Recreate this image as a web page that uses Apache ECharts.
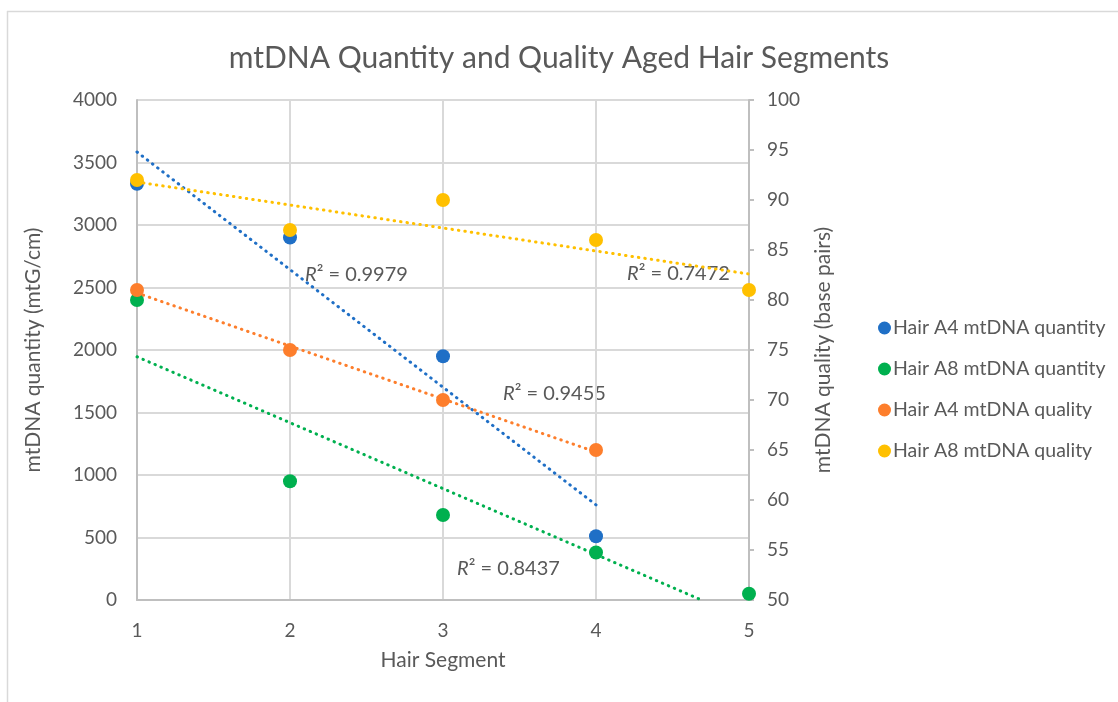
<!DOCTYPE html>
<html>
<head>
<meta charset="utf-8">
<script src="https://cdn.jsdelivr.net/npm/echarts@6/dist/echarts.min.js"></script>
<style>
  html, body { margin: 0; padding: 0; background: #fff; }
  #chart { width: 1118px; height: 702px; }
</style>
</head>
<body>
<div id="chart"></div>
<script>
// hair segments 1..5
const a4Quantity = [[1, 3330], [2, 2900], [3, 1950], [4, 510]]
const a8Quantity = [[1, 2400], [2, 950], [3, 680], [4, 380], [5, 50]]
const a4Quality = [[1, 81], [2, 75], [3, 70], [4, 65]]
const a8Quality = [[1, 92], [2, 87], [3, 90], [4, 86], [5, 81]]

// linear trendline end points
const a4QuantityTrend = [[1, 3584], [4, 761]]
const a8QuantityTrend = [[1, 1946], [4.69, 0]]
const a4QualityTrend = [[1, 80.7], [4, 64.8]]
const a8QualityTrend = [[1, 91.8], [5, 82.6]]

const r2Labels = ['0.9979', '0.7472', '0.9455', '0.8437']

const font = 'Lato'
const textColor = '#595959'
const colors = ['#1f6fc6', '#00b04f', '#fd7e2c', '#ffc000']

const chart = echarts.init(document.getElementById('chart'))

function trend(data, color, yAxisIndex) {
  return {
    type: 'line',
    data: data,
    yAxisIndex: yAxisIndex,
    showSymbol: false,
    symbol: 'none',
    silent: true,
    z: 5,
    lineStyle: { color: color, width: 3, type: [0.5, 6], cap: 'round' }
  }
}

function dots(name, data, color, yAxisIndex) {
  return {
    name: name,
    type: 'scatter',
    data: data,
    yAxisIndex: yAxisIndex,
    symbolSize: 14,
    itemStyle: { color: color, opacity: 1 },
    z: 3
  }
}

function r2Text(value, left, top) {
  return {
    type: 'text',
    left: left,
    top: top,
    style: {
      text: '{i|R}² = ' + value,
      font: '20px ' + font,
      fill: textColor,
      rich: { i: { fontStyle: 'italic', fontSize: 20, fontFamily: font, fill: textColor } }
    }
  }
}

chart.setOption({
  animation: false,
  textStyle: { fontFamily: font, color: textColor },
  title: {
    text: 'mtDNA Quantity and Quality Aged Hair Segments',
    left: 'center',
    top: 38,
    textStyle: { fontFamily: font, fontSize: 30, fontWeight: 'normal', color: textColor }
  },
  legend: {
    orient: 'vertical',
    left: 873,
    top: 313,
    itemGap: 21,
    itemWidth: 13,
    itemHeight: 13,
    icon: 'circle',
    data: ['Hair A4 mtDNA quantity', 'Hair A8 mtDNA quantity', 'Hair A4 mtDNA quality', 'Hair A8 mtDNA quality'],
    textStyle: { fontFamily: font, fontSize: 19.5, color: textColor, padding: [0, 0, 0, -3] }
  },
  grid: { left: 137, right: 369, top: 100, bottom: 102 },
  xAxis: {
    type: 'value',
    min: 1,
    max: 5,
    interval: 1,
    name: 'Hair Segment',
    nameLocation: 'middle',
    nameGap: 50,
    nameTextStyle: { fontSize: 21, color: textColor },
    axisLine: { lineStyle: { color: '#bfbfbf', width: 2 } },
    axisTick: { show: false },
    axisLabel: { fontSize: 19, color: textColor, margin: 21 },
    splitLine: { lineStyle: { color: '#d9d9d9', width: 2 } }
  },
  yAxis: [{
    type: 'value',
    min: 0,
    max: 4000,
    interval: 500,
    name: 'mtDNA quantity (mtG/cm)',
    nameLocation: 'middle',
    nameGap: 93,
    nameTextStyle: { fontSize: 21, color: textColor },
    axisLine: { show: true, lineStyle: { color: '#bfbfbf', width: 2 } },
    axisTick: { show: false },
    axisLabel: { fontSize: 19, color: textColor, margin: 20, formatter: v => String(v) },
    splitLine: { lineStyle: { color: '#d9d9d9', width: 2 } }
  }, {
    type: 'value',
    min: 50,
    max: 100,
    interval: 5,
    position: 'right',
    name: 'mtDNA quality (base pairs)',
    nameLocation: 'middle',
    nameGap: 64,
    nameRotate: 90,
    nameTextStyle: { fontSize: 21, color: textColor },
    axisLine: { show: true, lineStyle: { color: '#bfbfbf', width: 2 } },
    axisTick: { show: true, length: 5, lineStyle: { color: '#bfbfbf', width: 2 } },
    axisLabel: { fontSize: 19, color: textColor, margin: 18 },
    splitLine: { show: false }
  }],
  graphic: [
    { type: 'line', shape: { x1: 7, y1: 11.5, x2: 1118, y2: 11.5 }, style: { stroke: '#d9d9d9', lineWidth: 1.5 } },
    { type: 'line', shape: { x1: 7.5, y1: 11, x2: 7.5, y2: 702 }, style: { stroke: '#d9d9d9', lineWidth: 1.5 } },
    r2Text(r2Labels[0], 305, 265),
    r2Text(r2Labels[1], 627, 264),
    r2Text(r2Labels[2], 503, 384),
    r2Text(r2Labels[3], 457, 559)
  ],
  series: [
    dots('Hair A4 mtDNA quantity', a4Quantity, colors[0], 0),
    dots('Hair A8 mtDNA quantity', a8Quantity, colors[1], 0),
    dots('Hair A4 mtDNA quality', a4Quality, colors[2], 1),
    dots('Hair A8 mtDNA quality', a8Quality, colors[3], 1),
    trend(a4QuantityTrend, colors[0], 0),
    trend(a8QuantityTrend, colors[1], 0),
    trend(a4QualityTrend, colors[2], 1),
    trend(a8QualityTrend, colors[3], 1)
  ]
})
</script>
</body>
</html>
